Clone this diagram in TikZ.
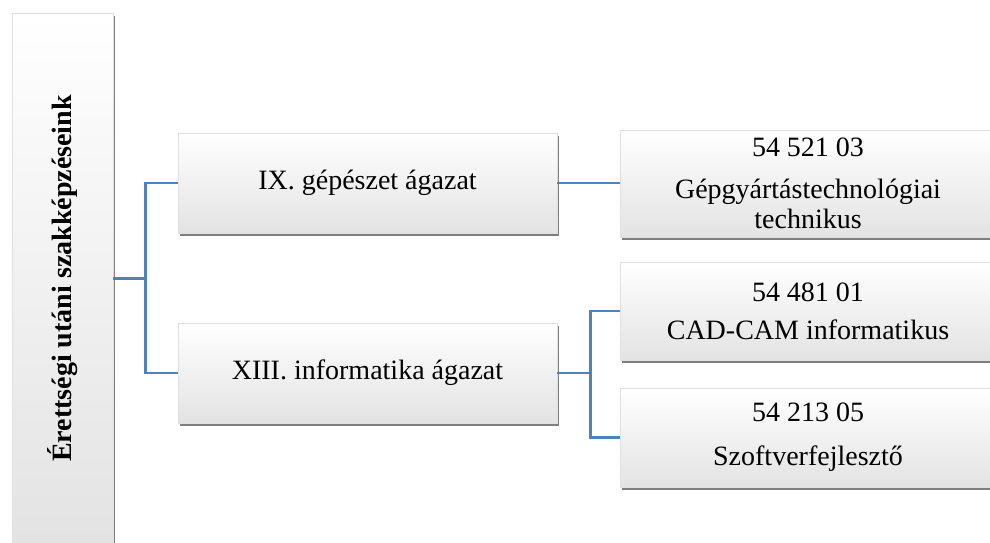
\documentclass[tikz,border=0pt]{standalone}
\usepackage{fontspec}
\setmainfont{Liberation Serif}
\usetikzlibrary{shadows}
\definecolor{conn}{HTML}{4F81BD}
\tikzset{
  box/.style={draw=black!12, line width=0.4pt, top color=white, bottom color=black!11,
    drop shadow={shadow xshift=1.5pt, shadow yshift=-3pt, fill=black, opacity=0.5},
    align=center, inner sep=0pt, font=\fontsize{28}{30}\selectfont},
  conline/.style={draw=conn, line width=2.8pt},
}
\begin{document}
\begin{tikzpicture}[x=1pt,y=-1pt]
\useasboundingbox (0,0) rectangle (990,543);
\clip (0,0) rectangle (990,543);
% left box
\node[box, minimum width=101pt, minimum height=531pt] (lbox) at (62.5,278.5) {};
\node[rotate=90, font=\fontsize{28}{30}\selectfont\bfseries] (ltext) at (lbox.center) {Érettségi utáni szakképzéseink};
% middle boxes
\node[box, minimum width=379pt, minimum height=100pt] (ix) at (367.5,183) {IX. gépészet ágazat};
\node[box, minimum width=379pt, minimum height=100pt] (xiii) at (367.5,373) {XIII. informatika ágazat};
% right boxes
\node[box, minimum width=376pt, minimum height=107pt] (r1) at (808,183.5) {54 521 03\\[12pt]Gépgyártástechnológiai\\technikus};
\node[box, minimum width=376pt, minimum height=98pt] (r2) at (808,311) {54 481 01\\[8pt]CAD-CAM informatikus};
\node[box, minimum width=376pt, minimum height=99pt] (r3) at (808,437.5) {54 213 05\\[14pt]Szoftverfejlesztő};
% connectors
\draw[conline] (lbox.east) -- ++(32,0) coordinate (j1) |- (ix.west);
\draw[conline] (j1) |- (xiii.west);
\draw[conline] (ix.east) -- (ix.east -| r1.west);
\draw[conline] (xiii.east) -- ++(33,0) coordinate (j2) |- (r2.west);
\draw[conline] (j2) |- (r3.west);
\end{tikzpicture}
\end{document}
